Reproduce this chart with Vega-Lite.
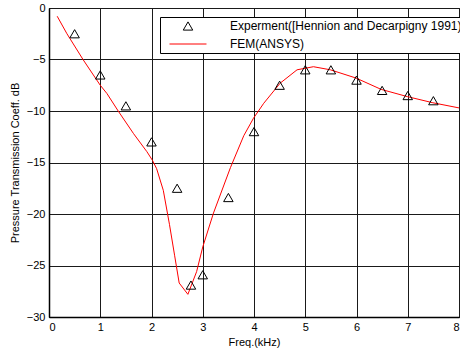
{
  "$schema": "https://vega.github.io/schema/vega-lite/v6.json",
  "autosize": "none",
  "width": 410,
  "height": 309,
  "padding": {"left": 49, "top": 8, "right": 1, "bottom": 35},
  "background": "white",
  "config": {
    "font": "Liberation Sans",
    "view": {"stroke": "black", "strokeWidth": 1},
    "axis": {
      "labelFont": "Liberation Sans",
      "titleFont": "Liberation Sans",
      "labelFontSize": 11,
      "titleFontSize": 11,
      "titleFontWeight": "normal",
      "labelColor": "black",
      "titleColor": "black",
      "gridColor": "#1a1a1a",
      "gridOpacity": 1,
      "gridWidth": 1,
      "domainColor": "black",
      "domainWidth": 1.5,
      "tickColor": "black",
      "tickSize": 0,
      "labelPadding": 4
    },
    "legend": {
      "labelFont": "Liberation Sans",
      "labelFontSize": 12,
      "labelColor": "black",
      "labelLimit": 0,
      "title": null,
      "orient": "none",
      "legendX": 111,
      "legendY": 9,
      "fillColor": "white",
      "strokeColor": "black",
      "padding": 3,
      "symbolStrokeWidth": 1,
      "symbolSize": 90,
      "symbolOffset": 19,
      "rowPadding": 5,
      "labelOffset": 36
    }
  },
  "datasets": {
    "exp": [
      {"f": 0.5, "db": -2.5, "s": "Experment([Hennion and Decarpigny 1991)"},
      {"f": 1.0, "db": -6.5, "s": "Experment([Hennion and Decarpigny 1991)"},
      {"f": 1.5, "db": -9.5, "s": "Experment([Hennion and Decarpigny 1991)"},
      {"f": 2.0, "db": -13.0, "s": "Experment([Hennion and Decarpigny 1991)"},
      {"f": 2.5, "db": -17.5, "s": "Experment([Hennion and Decarpigny 1991)"},
      {"f": 2.77, "db": -26.9, "s": "Experment([Hennion and Decarpigny 1991)"},
      {"f": 3.0, "db": -25.9, "s": "Experment([Hennion and Decarpigny 1991)"},
      {"f": 3.5, "db": -18.4, "s": "Experment([Hennion and Decarpigny 1991)"},
      {"f": 4.0, "db": -12.0, "s": "Experment([Hennion and Decarpigny 1991)"},
      {"f": 4.5, "db": -7.5, "s": "Experment([Hennion and Decarpigny 1991)"},
      {"f": 5.0, "db": -6.0, "s": "Experment([Hennion and Decarpigny 1991)"},
      {"f": 5.5, "db": -6.0, "s": "Experment([Hennion and Decarpigny 1991)"},
      {"f": 6.0, "db": -7.0, "s": "Experment([Hennion and Decarpigny 1991)"},
      {"f": 6.5, "db": -8.0, "s": "Experment([Hennion and Decarpigny 1991)"},
      {"f": 7.0, "db": -8.5, "s": "Experment([Hennion and Decarpigny 1991)"},
      {"f": 7.5, "db": -9.0, "s": "Experment([Hennion and Decarpigny 1991)"}
    ],
    "fem": [
      {"f": 0.16, "db": -0.8, "s": "FEM(ANSYS)"},
      {"f": 0.35, "db": -2.5, "s": "FEM(ANSYS)"},
      {"f": 0.67, "db": -5.05, "s": "FEM(ANSYS)"},
      {"f": 1.0, "db": -7.5, "s": "FEM(ANSYS)"},
      {"f": 1.13, "db": -8.3, "s": "FEM(ANSYS)"},
      {"f": 1.35, "db": -10.0, "s": "FEM(ANSYS)"},
      {"f": 1.65, "db": -12.2, "s": "FEM(ANSYS)"},
      {"f": 1.91, "db": -13.95, "s": "FEM(ANSYS)"},
      {"f": 2.02, "db": -14.8, "s": "FEM(ANSYS)"},
      {"f": 2.1, "db": -15.6, "s": "FEM(ANSYS)"},
      {"f": 2.23, "db": -17.7, "s": "FEM(ANSYS)"},
      {"f": 2.35, "db": -21.0, "s": "FEM(ANSYS)"},
      {"f": 2.45, "db": -24.0, "s": "FEM(ANSYS)"},
      {"f": 2.54, "db": -26.7, "s": "FEM(ANSYS)"},
      {"f": 2.71, "db": -27.8, "s": "FEM(ANSYS)"},
      {"f": 2.88, "db": -25.6, "s": "FEM(ANSYS)"},
      {"f": 3.0, "db": -23.2, "s": "FEM(ANSYS)"},
      {"f": 3.21, "db": -19.9, "s": "FEM(ANSYS)"},
      {"f": 3.54, "db": -15.5, "s": "FEM(ANSYS)"},
      {"f": 3.8, "db": -12.4, "s": "FEM(ANSYS)"},
      {"f": 3.99, "db": -10.7, "s": "FEM(ANSYS)"},
      {"f": 4.19, "db": -9.25, "s": "FEM(ANSYS)"},
      {"f": 4.51, "db": -7.3, "s": "FEM(ANSYS)"},
      {"f": 4.84, "db": -6.0, "s": "FEM(ANSYS)"},
      {"f": 5.16, "db": -5.7, "s": "FEM(ANSYS)"},
      {"f": 5.49, "db": -6.0, "s": "FEM(ANSYS)"},
      {"f": 5.99, "db": -6.8, "s": "FEM(ANSYS)"},
      {"f": 6.48, "db": -7.9, "s": "FEM(ANSYS)"},
      {"f": 6.99, "db": -8.6, "s": "FEM(ANSYS)"},
      {"f": 7.49, "db": -9.2, "s": "FEM(ANSYS)"},
      {"f": 8.0, "db": -9.7, "s": "FEM(ANSYS)"}
    ]
  },
  "encoding": {
    "x": {
      "field": "f", "type": "quantitative",
      "scale": {"domain": [0, 8], "nice": false},
      "axis": {"values": [0,1,2,3,4,5,6,7,8], "title": "Freq.(kHz)", "titlePadding": 4, "grid": true}
    },
    "y": {
      "field": "db", "type": "quantitative",
      "scale": {"domain": [-30, 0], "nice": false},
      "axis": {"values": [-30,-25,-20,-15,-10,-5,0], "title": "Pressure Transmission Coeff. dB", "titlePadding": 6, "grid": true}
    },
    "color": {
      "field": "s", "type": "nominal",
      "scale": {"domain": ["Experment([Hennion and Decarpigny 1991)", "FEM(ANSYS)"], "range": ["black", "#ff0000"]}
    }
  },
  "layer": [
    {
      "data": {"name": "fem"},
      "mark": {"type": "line", "strokeWidth": 1, "interpolate": "linear"}
    },
    {
      "data": {"name": "exp"},
      "mark": {"type": "point", "filled": false, "strokeWidth": 1, "opacity": 1, "size": 90},
      "encoding": {
        "shape": {
          "field": "s", "type": "nominal",
          "scale": {"domain": ["Experment([Hennion and Decarpigny 1991)", "FEM(ANSYS)"], "range": ["triangle-up", "M-3.9,0L3.9,0"]}
        }
      }
    }
  ]
}
